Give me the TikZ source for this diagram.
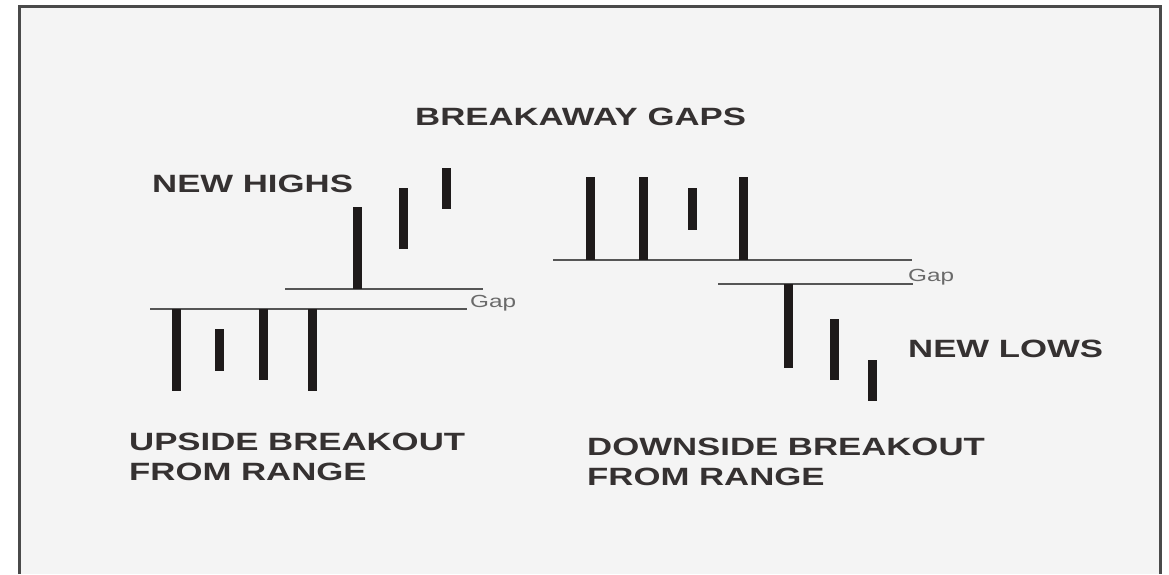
\documentclass[tikz,border=0pt]{standalone}
\usepackage{fontspec}
\newfontfamily\chartfont{Liberation Sans}[FakeStretch=1.39]
\usepackage{tikz}
\usetikzlibrary{positioning,calc}
\definecolor{ink}     {HTML}{1E1A1A}
\definecolor{frameink}{HTML}{4A4A4A}
\definecolor{lineink} {HTML}{555555}
\definecolor{paper}   {HTML}{F4F4F4}
\definecolor{softink} {HTML}{6A6A6A}
\tikzset{
  % --- text
  head/.style  = {inner sep=0pt, anchor=base west, text=ink!90,
                  font=\chartfont\fontsize{25}{30}\selectfont\bfseries},
  caption/.style = {head, anchor=north west, align=left},
  gaplbl/.style= {inner sep=0pt, anchor=base west, text=softink,
                  font=\chartfont\fontsize{17.5}{19}\selectfont},
  % --- strokes
  bar/.style   = {draw=ink, line width=9pt, line cap=butt},
  rng/.style   = {draw=lineink, line width=2.6pt},
}
\begin{document}
\begin{tikzpicture}[x=1pt,y=-1pt]
  \useasboundingbox (0,0) rectangle (1169,574);
  \fill[white] (0,0) rectangle (1169,574);
  \fill[paper] (19,6.5) rectangle (1160,574);
  \draw[draw=frameink, line width=3pt] (19,574) -- (19,6.5) -- (1160,6.5) -- (1160,574);

  % upside breakout
  \coordinate (ua) at (150,309);  \coordinate (ub) at (467,309);
  \coordinate (uc) at (285,289);  \coordinate (ud) at (483,289);
  \draw[rng] (ua) -- (ub);
  \draw[rng] (uc) -- (ud);
  \foreach \x/\t/\b in {176/309/391, 219/329/371, 263/309/380, 312/309/391,
                        357/207/289, 403/188/249, 446/168/209}
    \draw[bar] (\x,\t) -- (\x,\b);
  \node[gaplbl] (gapu) at (470,307) {Gap};

  % downside breakout
  \coordinate (da) at (553,260);  \coordinate (db) at (912,260);
  \coordinate (dc) at (718,284);  \coordinate (dd) at (913,284);
  \draw[rng] (da) -- (db);
  \draw[rng] (dc) -- (dd);
  \foreach \x/\t/\b in {590/177/260, 643/177/260, 692/188/230, 743/177/260,
                        788/284/368, 834/319/380, 872/360/401}
    \draw[bar] (\x,\t) -- (\x,\b);
  \node[gaplbl] (gapd) at (908,281) {Gap};

  \node[head]    (title) at (415,125) {BREAKAWAY GAPS};
  \node[head]    (highs) at (152,192) {NEW HIGHS};
  \node[head]    (lows)  at (908,357) {NEW LOWS};
  \node[caption] (up)    at (129,433) {UPSIDE BREAKOUT\\FROM RANGE};
  \node[caption] (down)  at (587,438) {DOWNSIDE BREAKOUT\\FROM RANGE};
\end{tikzpicture}
\end{document}
